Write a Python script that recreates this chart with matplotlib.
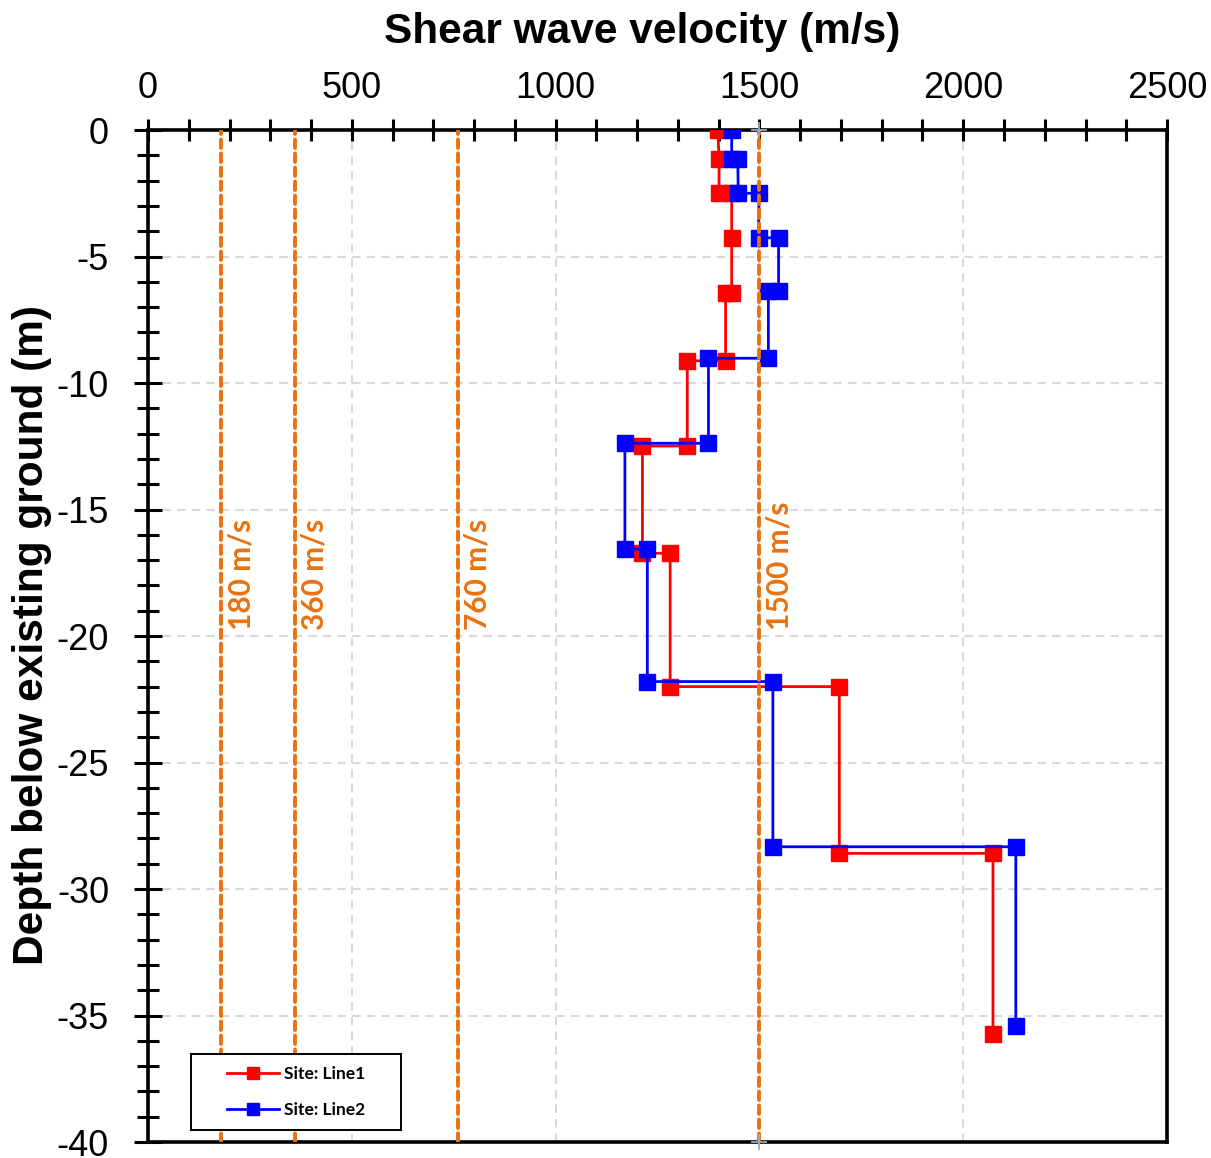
import matplotlib
matplotlib.use('Agg')
import matplotlib.pyplot as plt
from matplotlib.ticker import MultipleLocator
from matplotlib.patches import Rectangle

plt.rcParams['axes.unicode_minus'] = False
plt.rcParams['font.family'] = ['Liberation Sans', 'DejaVu Sans']

# Line1 profile (velocity m/s, depth m)
v_line1 = [1398, 1401, 1401, 1432, 1432, 1432, 1417, 1417, 1323, 1323, 1213,
           1213, 1281, 1281, 1696, 1696, 2073, 2073]
d_line1 = [0, -1.15, -2.5, -2.5, -4.26, -6.43, -6.43, -9.12, -9.12, -12.49, -12.49,
           -16.73, -16.73, -22.0, -22.0, -28.59, -28.59, -35.73]

# Line2 profile
v_line2 = [1432, 1432, 1447, 1448, 1499, 1498, 1547, 1547, 1522, 1522, 1375,
           1375, 1170, 1170, 1225, 1225, 1533, 1533, 2129, 2129]
d_line2 = [0, -1.15, -1.15, -2.5, -2.5, -4.26, -4.26, -6.36, -6.36, -9.02, -9.02,
           -12.38, -12.38, -16.56, -16.56, -21.8, -21.8, -28.33, -28.33, -35.42]

# reference velocities
ref_v = [180, 360, 760, 1500]
ref_labels = ['180 m/s', '360 m/s', '760 m/s', '1500 m/s']

# small grey crosses on the 1500 line
cross_v = [1500, 1500]
cross_d = [0, -40]

orange = '#E8720F'

fig = plt.figure(figsize=(12.11, 11.58), dpi=100)
ax = fig.add_axes([0.1222, 0.0138, 0.8415, 0.8739])

ax.plot(v_line1, d_line1, color='#FF0000', lw=2.0, marker='s', ms=11,
        label='Site: Line1', zorder=3)
ax.plot(v_line2, d_line2, color='#0000FF', lw=2.0, marker='s', ms=11,
        label='Site: Line2', zorder=4)

for v, lab in zip(ref_v, ref_labels):
    ax.axvline(v, color=orange, lw=2.8, dashes=(2.2, 1.4),
               dash_capstyle='round', zorder=5)
    ax.text(v + 14, -19.75, lab, rotation=90, color=orange, fontsize=21.5,
            fontweight='bold', family=['Lato', 'DejaVu Sans'],
            ha='left', va='bottom', zorder=6)

ax.plot(cross_v, cross_d, ls='none', marker='+', ms=11, mew=1.3,
        color='#9AA8BC', zorder=7, clip_on=False)

ax.set_xlim(0, 2500)
ax.set_ylim(-40, 0)
ax.xaxis.tick_top()
ax.xaxis.set_major_locator(MultipleLocator(500))
ax.xaxis.set_minor_locator(MultipleLocator(100))
ax.yaxis.set_major_locator(MultipleLocator(5))
ax.yaxis.set_minor_locator(MultipleLocator(1))

ax.tick_params(axis='both', which='both', direction='inout', width=2.2,
               labelsize=26, color='black')
ax.tick_params(axis='x', which='both', top=True, bottom=False, length=16, pad=9)
ax.tick_params(axis='y', which='major', left=True, right=False, length=20, pad=18)
ax.tick_params(axis='y', which='minor', left=True, right=False, length=16)

for s in ax.spines.values():
    s.set_linewidth(2.6)
    s.set_color('black')

ax.grid(True, which='major', color='#D9D9D9', ls=(0, (4, 3)), lw=1.5, zorder=0)
ax.set_axisbelow(True)

fig.text(0.530, 0.972, 'Shear wave velocity (m/s)', ha='center', va='center',
         fontsize=30.5, fontweight='bold')
fig.text(0.0264, 0.4516, 'Depth below existing ground (m)', ha='center',
         va='center', rotation=90, fontsize=30.5, fontweight='bold')

# legend box drawn separately, entries placed inside it
ax.add_patch(Rectangle((0.0422, 0.0119), 0.2061, 0.0751, transform=ax.transAxes,
                       facecolor='white', edgecolor='black', lw=1.4, zorder=9))
leg = ax.legend(loc='center left', bbox_to_anchor=(0.0775, 0.0494),
                borderaxespad=0, borderpad=0, frameon=False,
                prop={'family': ['Lato', 'DejaVu Sans'], 'weight': 'bold', 'size': 12.5},
                handlelength=3.0, labelspacing=1.15,
                handletextpad=0.3, markerscale=0.85)
leg.set_zorder(10)

fig.savefig('out.png', dpi=100)
